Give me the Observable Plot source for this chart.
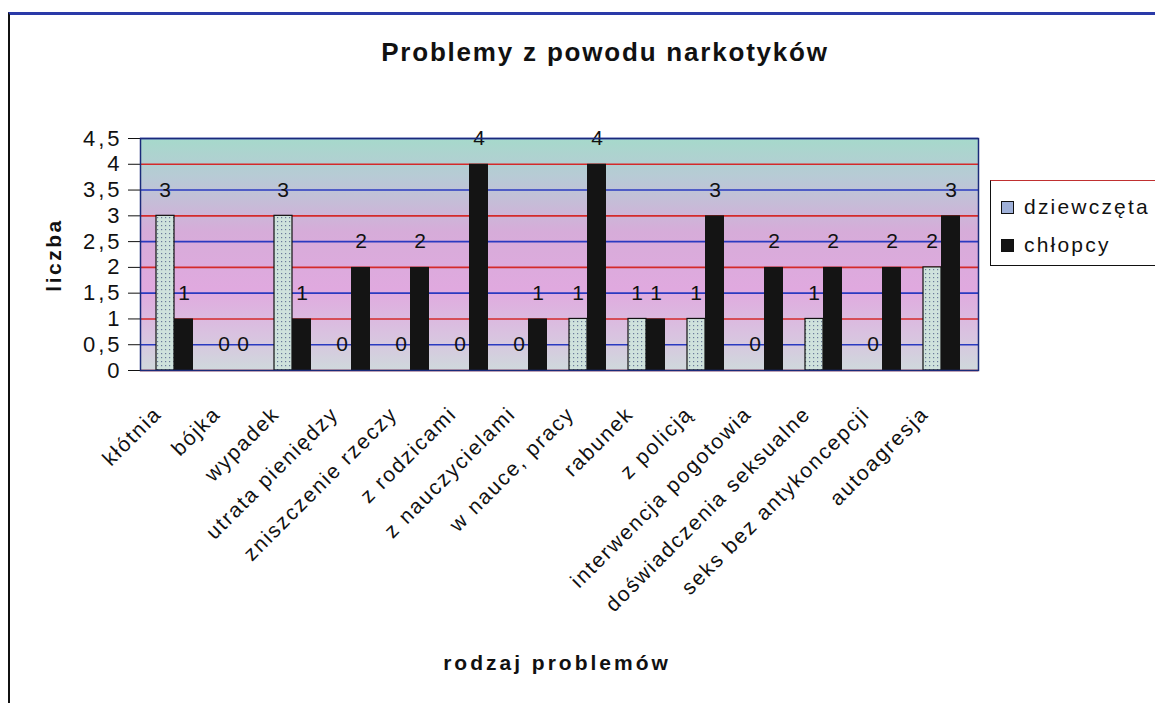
<!DOCTYPE html>
<html><head><meta charset="utf-8">
<script src="https://cdn.jsdelivr.net/npm/d3@7"></script>
<script src="https://cdn.jsdelivr.net/npm/@observablehq/plot@0.6"></script>
<style>
body{margin:0;background:#fff;font-family:"Liberation Sans",Arial,sans-serif;}
#wrap{position:relative;width:1155px;height:703px;overflow:hidden;background:#fff}
#border{position:absolute;left:8px;top:12px;width:1170px;height:720px;border-left:2px solid #111;border-top:3px solid #2a3aa8;}
#title{position:absolute;left:0;width:1210px;top:37px;text-align:center;font-weight:bold;font-size:26px;letter-spacing:1.8px;color:#111;}
#ylabel{position:absolute;left:54px;top:255px;transform:translate(-50%,-50%) rotate(-90deg);font-weight:bold;font-size:21px;letter-spacing:2.5px;color:#111;}
#xlabel{position:absolute;left:557px;top:663px;transform:translate(-50%,-50%);font-weight:bold;font-size:21px;letter-spacing:3px;color:#111;}
#chart{position:absolute;left:0;top:100px;}
#legend{position:absolute;left:990px;top:180px;width:200px;height:84px;border:1.5px solid #111;border-top-color:#c03030;background:#fff;}
.li{position:absolute;left:10px;font-size:21px;letter-spacing:2.2px;color:#111;display:flex;align-items:center;}
.sw{width:11px;height:11px;border:1px solid #111;margin-right:10px;}
</style></head><body>
<div id="wrap">
  <div id="border"></div>
  <div id="title">Problemy z powodu narkotyków</div>
  <div id="ylabel">liczba</div>
  <div id="chart"></div>
  <div id="xlabel">rodzaj problemów</div>
  <div id="legend"></div>
</div>
<script>
const categories = ["kłótnia","bójka","wypadek","utrata pieniędzy","zniszczenie rzeczy","z rodzicami","z nauczycielami","w nauce, pracy","rabunek","z policją","interwencja pogotowia","doświadczenia seksualne","seks bez antykoncepcji","autoagresja"];
const seriesNames = ["dziewczęta","chłopcy"];
const dziewczeta = [3,0,3,0,0,0,0,1,1,1,0,1,0,2];
const chlopcy = [1,0,1,2,2,4,1,4,1,3,2,2,2,3];
const yTicks = [0,0.5,1,1.5,2,2.5,3,3.5,4,4.5];

const girls = categories.map((c,i)=>({category:c, series:seriesNames[0], value:dziewczeta[i]}));
const boys = categories.map((c,i)=>({category:c, series:seriesNames[1], value:chlopcy[i]}));

const plot = Plot.plot({
  width: 1155,
  height: 540,
  marginTop: 38,
  marginBottom: 270,
  marginLeft: 140,
  marginRight: 177,
  style: {fontFamily: "'Liberation Sans', Arial, sans-serif", fontSize: "16px", color: "#111", background: "transparent"},
  x: {domain: categories, paddingInner: 0, paddingOuter: 0, tickRotate: -45, tickSize: 0, tickPadding: 26, label: null},
  y: {domain: [0, 4.5], ticks: yTicks, tickFormat: d => String(d).replace(".", ","), tickSize: 12, tickPadding: 6, label: null},
  marks: [
    Plot.frame({fill: "url(#bgGrad)"}),
    Plot.ruleY(yTicks, {stroke: d => Number.isInteger(d) ? "#d42a2a" : "#2a3ac0", strokeWidth: 1.6}),
    Plot.barY(girls, {x: "category", y: "value", fill: "url(#dzPat)", stroke: "#111", strokeWidth: 1.2, insetLeft: 10, insetRight: 31}),
    Plot.barY(boys, {x: "category", y: "value", fill: "#141414", insetLeft: 28, insetRight: 12}),
    Plot.text(girls, {x: "category", y: "value", text: d => String(d.value), dy: -26, dx: -11, fontSize: 21, fill: "#111"}),
    Plot.text(boys, {x: "category", y: "value", text: d => String(d.value), dy: -26, dx: 8, fontSize: 21, fill: "#111"}),
    Plot.frame({stroke: "#1a2a7a", strokeWidth: 1.5})
  ]
});

const svg = d3.select(plot);
const defs = svg.insert("defs", ":first-child");
const g = defs.append("linearGradient").attr("id","bgGrad").attr("x1",0).attr("y1",0).attr("x2",0).attr("y2",1);
[["0%","#a6d9cb"],["18%","#b9c9d6"],["40%","#d6acd9"],["65%","#e0a9df"],["85%","#d9c3e0"],["100%","#cfd9dc"]].forEach(([o,c])=>g.append("stop").attr("offset",o).attr("stop-color",c));
const p = defs.append("pattern").attr("id","dzPat").attr("width",4).attr("height",4).attr("patternUnits","userSpaceOnUse");
p.append("rect").attr("width",4).attr("height",4).attr("fill","#cfe2dc");
p.append("rect").attr("x",1).attr("y",1).attr("width",1.2).attr("height",1.2).attr("fill","#6a7a9a");
svg.selectAll('[aria-label^="y-axis"] text').style("font-size","22px").style("letter-spacing","3px");
svg.selectAll('[aria-label^="x-axis"] text').each(function(){
  const t = d3.select(this);
  t.style("font-size","21px").style("letter-spacing","1.8px");
  t.attr("transform", "translate(-18,14) " + (t.attr("transform") || ""));
});
document.getElementById("chart").appendChild(plot);

const legend = d3.select("#legend");
[[seriesNames[0],"#9fb0d8",14],[seriesNames[1],"#141414",52]].forEach(([name,bg,top])=>{
  const it = legend.append("div").attr("class","li").style("top", top+"px");
  it.append("div").attr("class","sw").style("background", bg);
  it.append("span").text(name);
});
</script>
</body></html>
